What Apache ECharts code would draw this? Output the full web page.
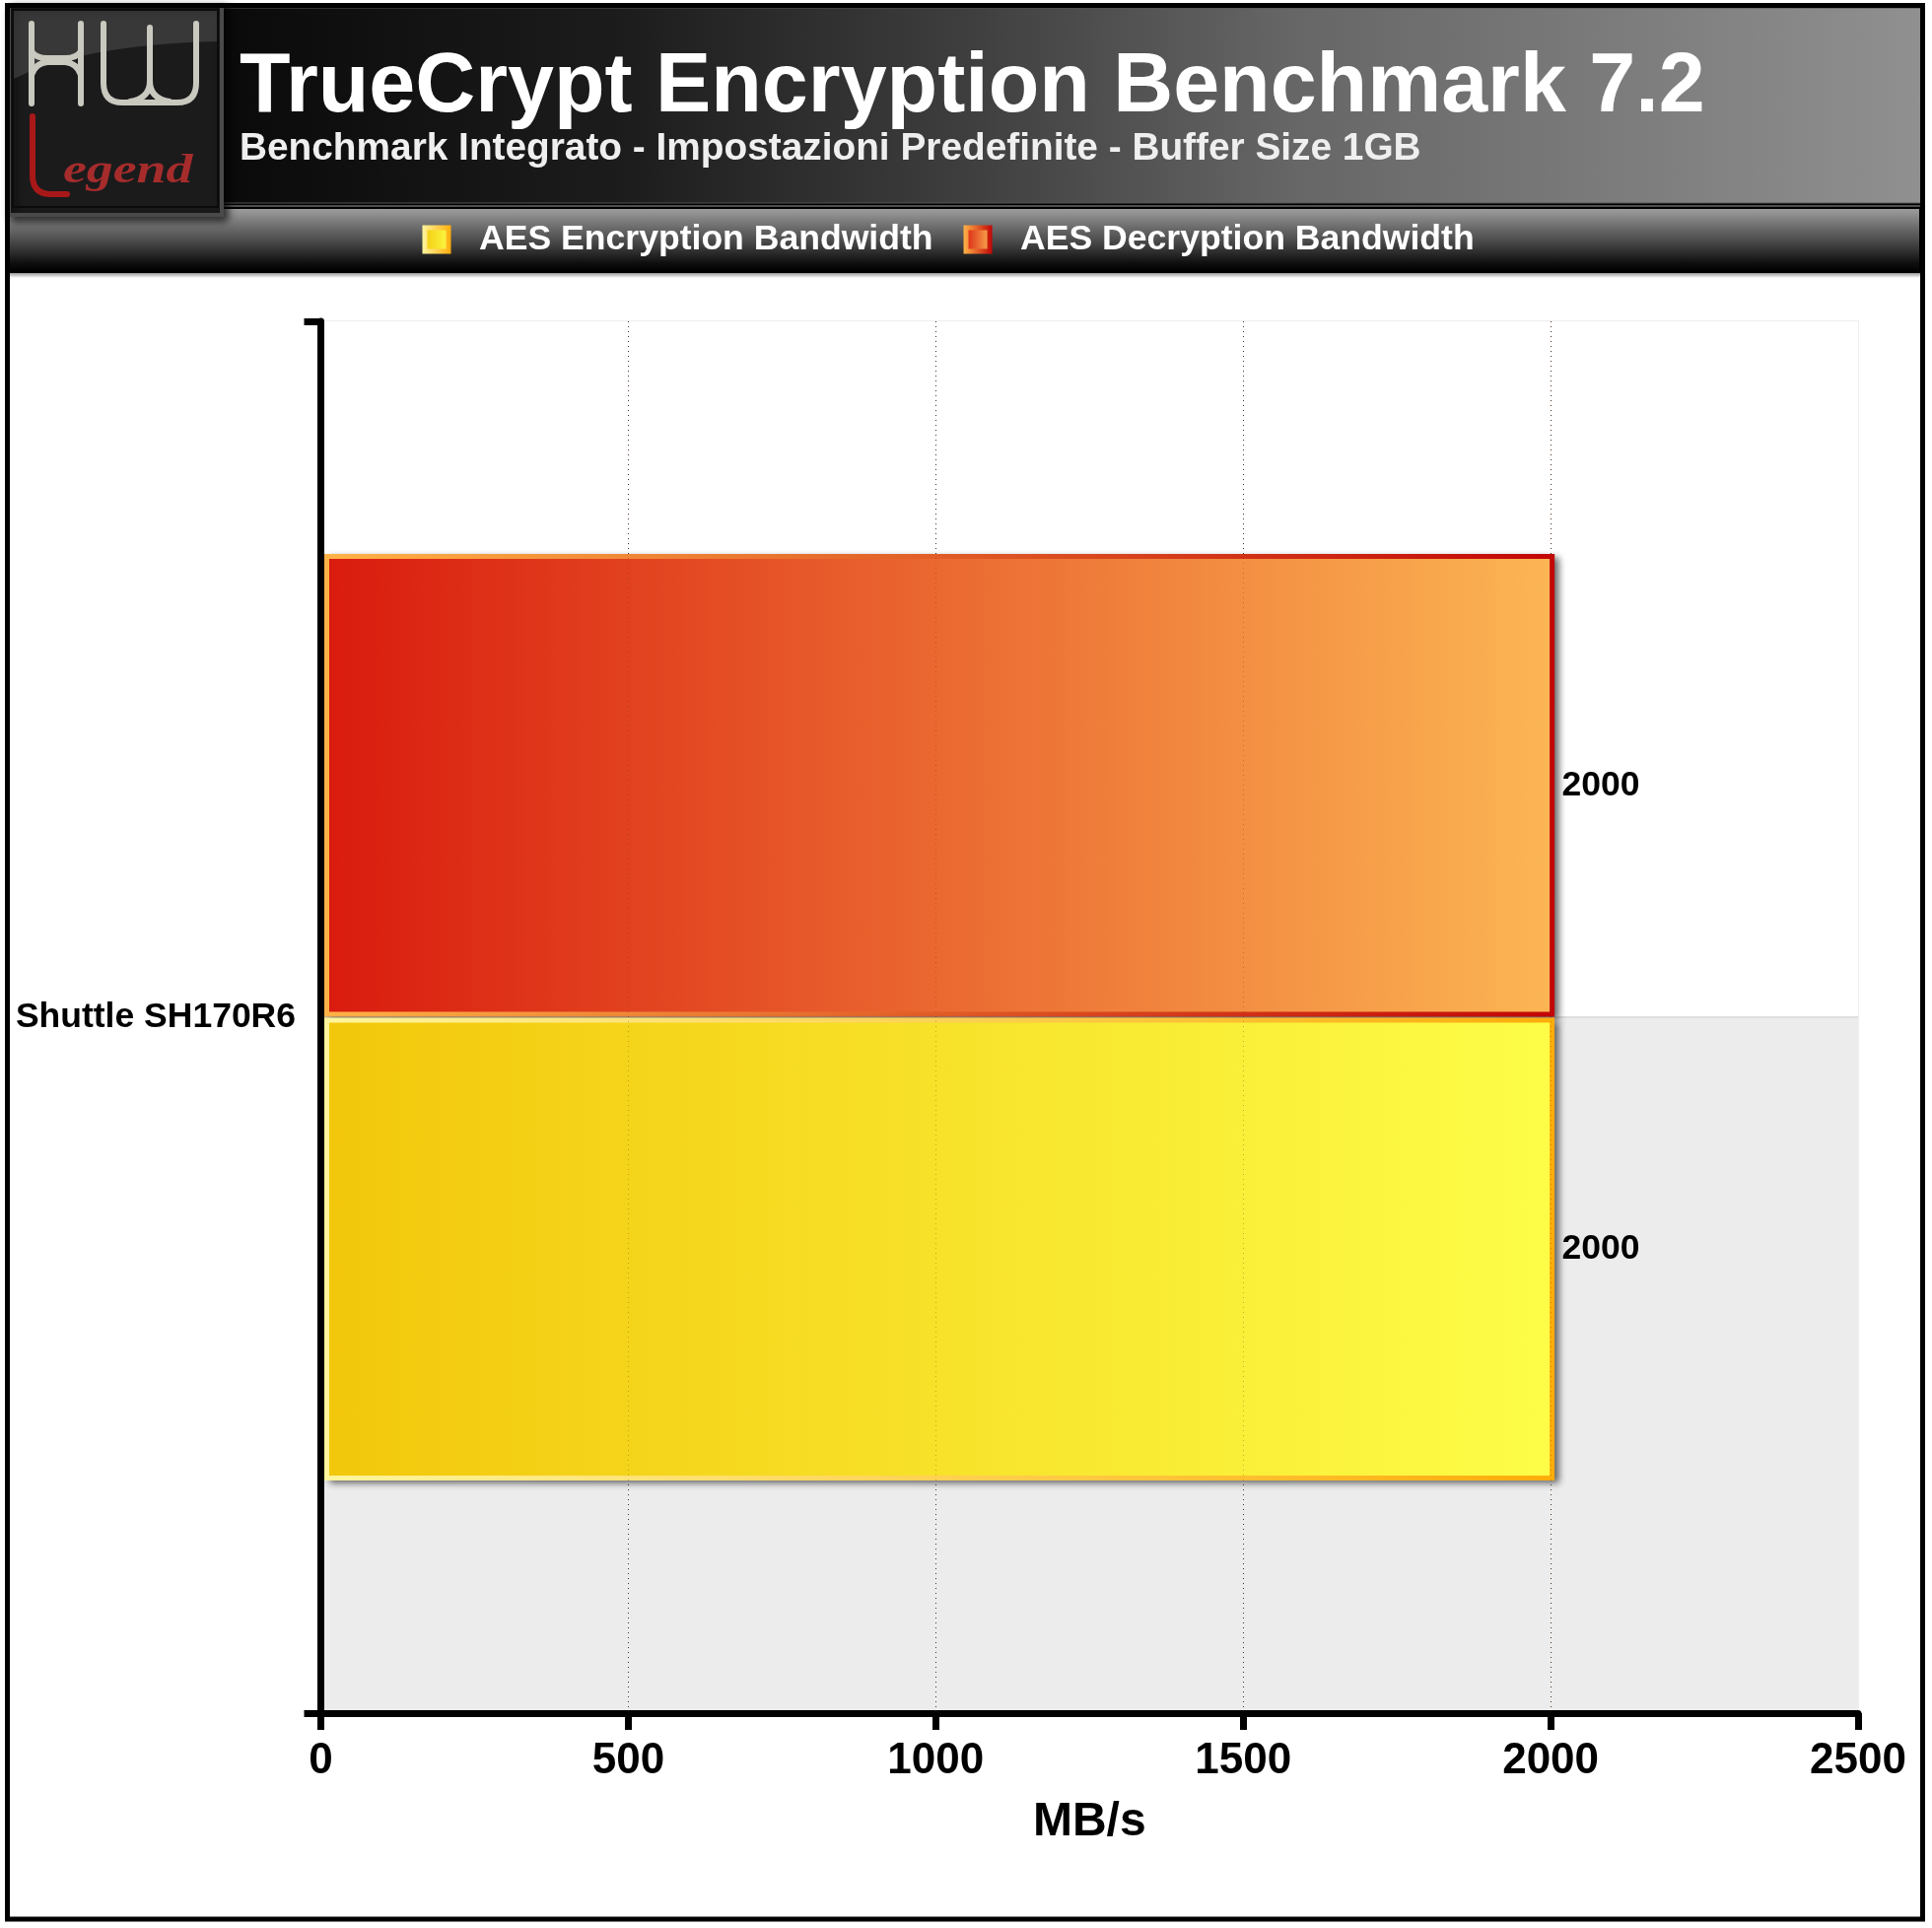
<!DOCTYPE html>
<html><head><meta charset="utf-8">
<style>html,body{margin:0;padding:0;background:#fff}#c{width:1960px;height:1956px}</style>
<script src="https://cdn.jsdelivr.net/npm/echarts@6/dist/echarts.min.js"></script>
</head><body><div id="c"></div>
<script>
const categories = ['Shuttle SH170R6'];
const encryption = [2000];
const decryption = [2000];
const seriesNames = ['AES Encryption Bandwidth', 'AES Decryption Bandwidth'];
const titleText = 'TrueCrypt Encryption Benchmark 7.2';
const subtitleText = 'Benchmark Integrato - Impostazioni Predefinite - Buffer Size 1GB';
const axisName = 'MB/s';

const FONT = '"Liberation Sans", Arial, sans-serif';
const grad = (a, b) => new echarts.graphic.LinearGradient(0, 0, 1, 0, [{offset: 0, color: a}, {offset: 1, color: b}]);
const BAR_FRACTION = 0.329, AXIS_INSET = 6;

function svgShape(name, d) {
  echarts.graphic.registerShape(name, echarts.graphic.extendPath(d, {}));
  return name;
}

function barRenderer(direction) {
  return function (params, api) {
    const start = api.coord([0, api.value(1)]);
    const end = api.coord([api.value(0), api.value(1)]);
    const band = api.size([0, 1])[1];
    const h = band * BAR_FRACTION;
    const shape = {
      x: start[0] + AXIS_INSET,
      y: direction < 0 ? end[1] - h - 3 : end[1] + 3,
      width: end[0] - start[0] - AXIS_INSET + 1.5,
      height: h
    };
    return {
      type: 'group',
      children: [{
        type: 'rect', shape: Object.assign({}, shape, {x: shape.x - 2.5, y: shape.y - 2.5, width: shape.width + 5, height: shape.height + 5}),
        style: {fill: '#888', shadowColor: 'rgba(0,0,0,0.6)', shadowBlur: 7, shadowOffsetX: 5, shadowOffsetY: 3}
      }, {
        type: 'rect', shape: shape,
        style: api.style(),
        textContent: {style: {text: String(api.value(0)), fill: '#000', font: 'bold 35.5px ' + FONT}},
        textConfig: {position: 'right', distance: 7.5}
      }]
    };
  };
}

const chart = echarts.init(document.getElementById('c'), null, {renderer: 'canvas', width: 1960, height: 1956});
const silver = {stroke: '#c9c9c0', lineWidth: 6, fill: null, lineCap: 'round'};
chart.setOption({
  animation: false,
  backgroundColor: '#fff',
  title: {
    text: titleText, subtext: subtitleText, left: 238, top: 42.5, itemGap: 0.5,
    textStyle: {color: '#fff', fontFamily: FONT, fontWeight: 'bold', fontSize: 84.4},
    subtextStyle: {color: '#efefef', fontFamily: FONT, fontWeight: 'bold', fontSize: 38.8}
  },
  legend: {
    left: 423.5, top: 220, itemWidth: 24, itemHeight: 24, itemGap: 31, icon: 'rect',
    selectedMode: false,
    itemStyle: {borderWidth: 5},
    textStyle: {color: '#fff', fontFamily: FONT, fontWeight: 'bold', fontSize: 35.6, padding: [0, 0, 0, 26]},
    data: seriesNames
  },
  grid: {left: 325.5, right: 75, top: 326, bottom: 218, show: true, borderColor: '#eeeeee', borderWidth: 2, backgroundColor: '#fff'},
  xAxis: [{
    type: 'value', min: 0, max: 2500, interval: 500,
    name: axisName, nameLocation: 'middle', nameGap: 87,
    nameTextStyle: {color: '#000', fontFamily: FONT, fontWeight: 'bold', fontSize: 48},
    axisLine: {show: true, lineStyle: {color: '#000', width: 7}},
    axisTick: {show: true, length: 17, lineStyle: {color: '#000', width: 7}},
    axisLabel: {color: '#000', fontFamily: FONT, fontWeight: 'bold', fontSize: 44, margin: 26.5, showMaxLabel: true, formatter: v => String(v)},
    splitLine: {show: true, showMaxLine: false, lineStyle: {color: '#333', width: 1, type: [1, 4]}}
  }, {
    type: 'value', min: 0, max: 2500, interval: 500, z: 6,
    axisLine: {show: false}, axisTick: {show: false}, axisLabel: {show: false},
    splitLine: {show: true, showMaxLine: false, showMinLine: false, lineStyle: {color: 'rgba(120,50,0,0.35)', width: 1, type: [1, 4]}}
  }],
  yAxis: [{
    type: 'category', data: categories,
    axisLine: {show: true, onZero: false, lineStyle: {color: '#000', width: 7}},
    axisTick: {show: true, length: 17, lineStyle: {color: '#000', width: 7}},
    axisLabel: {color: '#000', fontFamily: FONT, fontWeight: 'bold', fontSize: 35.5, margin: 25.5},
    splitLine: {show: false}
  }, {
    type: 'value', min: 0, max: 2, interval: 1, position: 'right',
    axisLine: {show: false}, axisTick: {show: false}, axisLabel: {show: false},
    splitLine: {show: true, showMaxLine: false, lineStyle: {color: '#dedede', width: 2}},
    splitArea: {show: true, areaStyle: {color: ['#ececec', '#ffffff']}}
  }],
  series: [{
    name: seriesNames[0], type: 'custom', yAxisIndex: 0, z: 4, clip: false,
    renderItem: barRenderer(1), encode: {x: 0, y: 1},
    itemStyle: {color: grad('#f2c70b', '#fdfd48'), borderColor: grad('#fff59c', '#ffad0a'), borderWidth: 5},
    data: categories.map((c, i) => [encryption[i], i])
  }, {
    name: seriesNames[1], type: 'custom', yAxisIndex: 0, z: 3, clip: false,
    renderItem: barRenderer(-1), encode: {x: 0, y: 1},
    itemStyle: {color: grad('#d91b0e', '#fcb654'), borderColor: grad('#ffb347', '#c20606'), borderWidth: 5},
    data: categories.map((c, i) => [decryption[i], i])
  }],
  graphic: [
    {type: 'rect', z: 20, shape: {x: 7.5, y: 5.5, width: 1943, height: 1941.5}, style: {fill: null, stroke: '#000', lineWidth: 5}, silent: true},
    {type: 'rect', z: 1, shape: {x: 5, y: 3, width: 1948, height: 275}, style: {fill: '#000'}},
    {type: 'rect', z: 2, shape: {x: 8, y: 8, width: 1942, height: 198},
      style: {fill: new echarts.graphic.LinearGradient(0, 0, 1, 0, [
        {offset: 0, color: '#000'}, {offset: 0.32, color: '#1c1c1c'}, {offset: 0.5, color: '#3e3e3e'},
        {offset: 0.67, color: '#666'}, {offset: 1, color: '#909090'}]),
        stroke: '#555', lineWidth: 1}},
    {type: 'rect', z: 2, shape: {x: 8, y: 208, width: 1940, height: 2}, style: {fill: '#4f4f4f'}},
    {type: 'rect', z: 2, shape: {x: 9, y: 212, width: 1938, height: 64},
      style: {fill: new echarts.graphic.LinearGradient(0, 0, 0, 1, [
        {offset: 0, color: '#9c9c9c'}, {offset: 0.33, color: '#666'}, {offset: 0.6, color: '#3c3c3c'}, {offset: 0.85, color: '#101010'}, {offset: 1, color: '#000'}])}},
    {type: 'rect', z: 2, shape: {x: 10, y: 277, width: 1938, height: 5},
      style: {fill: new echarts.graphic.LinearGradient(0, 0, 0, 1, [{offset: 0, color: '#999'}, {offset: 1, color: '#fff'}])}},
    {type: 'rect', z: 3, shape: {x: 9, y: 5, width: 216, height: 213},
      style: {fill: '#1b1b1c', stroke: '#4a4a4a', lineWidth: 4, shadowColor: 'rgba(0,0,0,0.7)', shadowBlur: 8, shadowOffsetX: 4, shadowOffsetY: 4}},
    {type: 'rect', z: 3, shape: {x: 13, y: 10, width: 208, height: 200}, style: {fill: null, stroke: '#0b0b0b', lineWidth: 2}},
    {type: svgShape('logoGloss', 'M14 11 H220 V42 C150 44 70 52 14 80 Z'), z: 3, style: {fill: 'rgba(255,255,255,0.13)'}},
    {type: svgShape('logoH', 'M32 24 V105 M82 24 V105 M32 52 Q36 59 48 59 H66 Q78 59 82 52 M32 76 Q36 64 48 63 H66 Q78 64 82 76'), z: 4, style: silver},
    {type: svgShape('logoW', 'M105 24 V84 Q105 104 124 104 H180 Q199 104 199 84 V24 M152 28 V82 Q152 100 132 103 M152 82 Q152 100 172 103'), z: 4, style: silver},
    {type: svgShape('logoL', 'M33 118 V178 Q33 197 52 197 H68'), z: 4, style: {stroke: '#a81818', lineWidth: 6, fill: null, lineCap: 'round'}},
    {type: 'text', z: 4, x: 64, y: 152, scaleX: 1.25, style: {text: 'egend', fill: '#a62c2c', font: 'italic bold 43px "Liberation Serif", serif'}}
  ]
});
</script></body></html>
